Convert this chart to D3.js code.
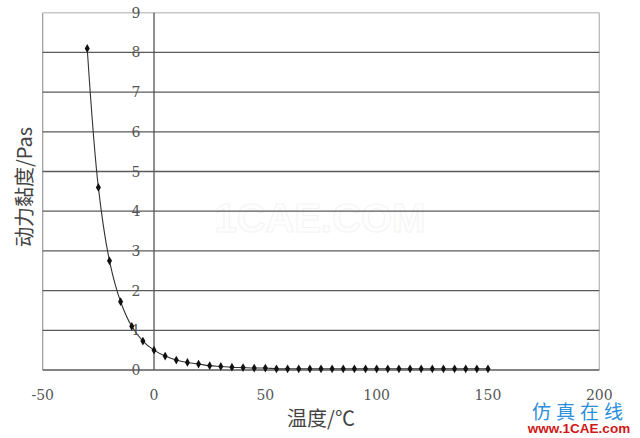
<!DOCTYPE html>
<html>
<head>
<meta charset="utf-8">
<script src="https://cdn.jsdelivr.net/npm/d3@7"></script>
<style>
  html, body { margin: 0; padding: 0; background: #fff; }
  svg { display: block; }
  .tick { font-family: 'DejaVu Serif', 'Liberation Serif', serif; font-size: 14px; fill: #555; }
</style>
</head>
<body>
<svg id="chart" width="640" height="438"></svg>
<script>
// Data
const temperatures = [-30, -25, -20, -15, -10, -5, 0, 5, 10, 15, 20, 25, 30, 35, 40, 45, 50,
  55, 60, 65, 70, 75, 80, 85, 90, 95, 100, 105, 110, 115, 120, 125, 130, 135, 140, 145, 150];
const viscosity = [8.1, 4.6, 2.75, 1.72, 1.1, 0.73, 0.5, 0.35, 0.25, 0.19, 0.15, 0.11, 0.09, 0.07, 0.06, 0.05, 0.05,
  0.03, 0.03, 0.03, 0.03, 0.03, 0.03, 0.03, 0.03, 0.03, 0.03, 0.03, 0.03, 0.03, 0.03, 0.03, 0.03, 0.03, 0.03, 0.03, 0.03];
const xTicks = [-50, 0, 50, 100, 150, 200];
const yTicks = [0, 1, 2, 3, 4, 5, 6, 7, 8, 9];
const xTitle = "温度/℃";
const yTitle = "动力黏度/Pas";

const svg = d3.select("#chart");
const pLeft = 42.7, pRight = 599.3, pTop = 12.7, pBottom = 370;

const x = d3.scaleLinear().domain([-50, 200]).range([pLeft, pRight]);
const y = d3.scaleLinear().domain([0, 9]).range([pBottom, pTop]);

// faint background watermark
svg.append("text")
  .attr("x", 320).attr("y", 232)
  .attr("text-anchor", "middle")
  .attr("font-family", "'Liberation Sans', Arial, sans-serif")
  .attr("font-weight", "bold")
  .attr("font-size", 40)
  .attr("fill", "#fefefe")
  .attr("stroke", "#f4f4f4")
  .attr("stroke-width", 1)
  .text("1CAE.COM");

// plot frame: left and right borders
svg.append("line").attr("x1", pLeft).attr("x2", pLeft).attr("y1", pTop).attr("y2", pBottom)
  .attr("stroke", "#9a9a9a").attr("stroke-width", 1.2);
svg.append("line").attr("x1", pRight).attr("x2", pRight).attr("y1", pTop).attr("y2", pBottom)
  .attr("stroke", "#b5b5b5").attr("stroke-width", 1.2);

// horizontal gridlines
svg.append("g").selectAll("line").data(yTicks).join("line")
  .attr("x1", pLeft).attr("x2", pRight)
  .attr("y1", d => y(d)).attr("y2", d => y(d))
  .attr("stroke", d => d === 9 ? "#c8c8c8" : "#5a5a5a")
  .attr("stroke-width", d => d === 9 ? 1.5 : 1.3);

// vertical axis at x = 0
svg.append("line").attr("x1", x(0)).attr("x2", x(0)).attr("y1", pTop).attr("y2", pBottom)
  .attr("stroke", "#555").attr("stroke-width", 1.3);

// curve
const pts = temperatures.map((t, i) => [t, viscosity[i]]);
const line = d3.line().x(d => x(d[0])).y(d => y(d[1])).curve(d3.curveCatmullRom.alpha(0.5));
svg.append("path").datum(pts)
  .attr("d", line).attr("fill", "none")
  .attr("stroke", "#333").attr("stroke-width", 1.1);

// y tick labels
svg.append("g").selectAll("text").data(yTicks).join("text")
  .attr("class", "tick")
  .attr("x", x(0) - 18).attr("y", d => y(d))
  .attr("dy", "0.36em")
  .attr("text-anchor", "middle")
  .text(d => d);

// markers
svg.append("g").selectAll("path").data(pts).join("path")
  .attr("transform", d => `translate(${x(d[0])},${y(d[1])})`)
  .attr("d", d3.symbol().type(d3.symbolDiamond).size(22))
  .attr("fill", "#111");

// x tick labels
svg.append("g").selectAll("text").data(xTicks).join("text")
  .attr("class", "tick")
  .attr("x", d => x(d)).attr("y", 395)
  .attr("dy", "0.36em")
  .attr("text-anchor", "middle")
  .text(d => d);

// axis titles
svg.append("text")
  .attr("x", 321).attr("y", 419)
  .attr("dy", "0.36em")
  .attr("text-anchor", "middle")
  .attr("font-family", "'Noto Sans CJK SC', sans-serif")
  .attr("font-size", 20)
  .attr("fill", "#444")
  .text(xTitle);

svg.append("text")
  .attr("transform", "translate(25,187) rotate(-90)")
  .attr("dy", "0.36em")
  .attr("text-anchor", "middle")
  .attr("font-family", "'Noto Sans CJK SC', sans-serif")
  .attr("font-size", 20)
  .attr("fill", "#444")
  .text(yTitle);

// corner watermark
svg.append("text")
  .attr("x", 580).attr("y", 413)
  .attr("dy", "0.34em")
  .attr("text-anchor", "middle")
  .attr("font-family", "'Noto Sans CJK SC', sans-serif")
  .attr("font-size", 19)
  .attr("letter-spacing", 5)
  .attr("fill", "#2b8fdc")
  .text("仿真在线");

svg.append("text")
  .attr("x", 579).attr("y", 428)
  .attr("dy", "0.34em")
  .attr("text-anchor", "middle")
  .attr("font-family", "'Liberation Sans', Arial, sans-serif")
  .attr("font-weight", "bold")
  .attr("font-size", 13.5)
  .attr("fill", "#d01818")
  .text("www.1CAE.com");
</script>
</body>
</html>
